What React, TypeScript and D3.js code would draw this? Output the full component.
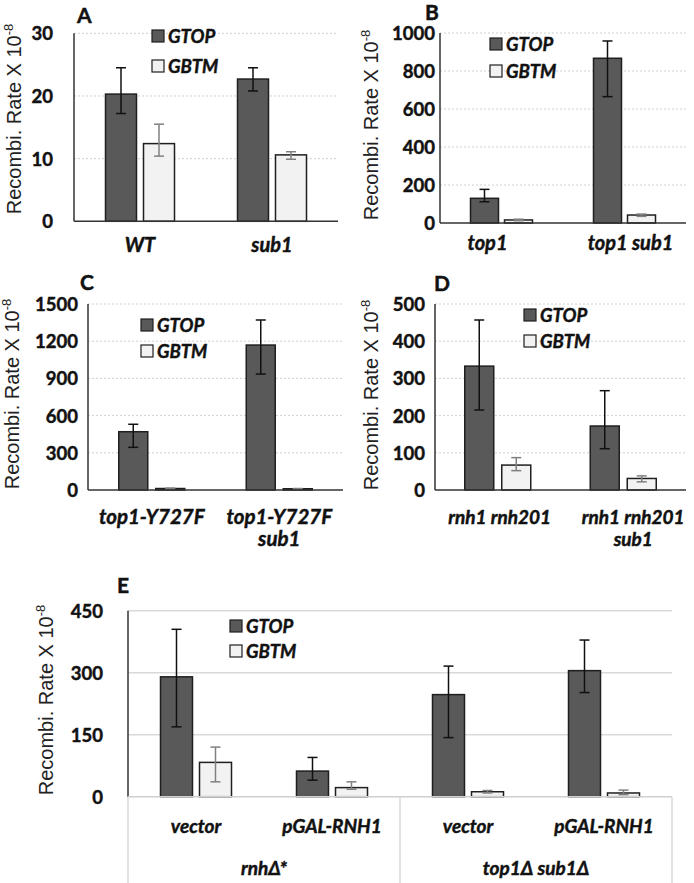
import React from "react";
import * as d3 from "d3";

// ---------- DATA ----------
const seriesNames = ["GTOP", "GBTM"];

const aCategories = ["WT", "sub1"];
const aGtop = [20.3, 22.7];
const aGtopLow = [17.2, 20.8];
const aGtopHigh = [24.5, 24.5];
const aGbtm = [12.4, 10.6];
const aGbtmLow = [10.4, 9.9];
const aGbtmHigh = [15.5, 11.1];
const aTicks = [0, 10, 20, 30];

const bCategories = ["top1", "top1 sub1"];
const bGtop = [130, 867];
const bGtopLow = [112, 665];
const bGtopHigh = [177, 958];
const bGbtm = [16, 42];
const bGbtmLow = [12, 35];
const bGbtmHigh = [20, 47];
const bTicks = [0, 200, 400, 600, 800, 1000];

const cCategories = ["top1-Y727F", "top1-Y727F\nsub1"];
const cGtop = [470, 1169];
const cGtopLow = [344, 935];
const cGtopHigh = [530, 1371];
const cGbtm = [12, 10];
const cGbtmLow = [9, 8];
const cGbtmHigh = [15, 12];
const cTicks = [0, 300, 600, 900, 1200, 1500];

const dCategories = ["rnh1 rnh201", "rnh1 rnh201\nsub1"];
const dGtop = [333, 172];
const dGtopLow = [215, 111];
const dGtopHigh = [457, 267];
const dGbtm = [67, 31];
const dGbtmLow = [52, 22];
const dGbtmHigh = [87, 38];
const dTicks = [0, 100, 200, 300, 400, 500];

const eCategories = ["vector", "pGAL-RNH1", "vector", "pGAL-RNH1"];
const eGroups = ["rnhΔ*", "top1Δ sub1Δ"];
const eGtop = [290, 62, 247, 305];
const eGtopLow = [169, 40, 143, 252];
const eGtopHigh = [405, 95, 316, 379];
const eGbtm = [83, 22, 12, 9];
const eGbtmLow = [36, 18, 9, 5];
const eGbtmHigh = [120, 36, 15, 16];
const eTicks = [0, 150, 300, 450];

// ---------- STYLE ----------
const BOLD_FONT = "Lato, 'Open Sans', sans-serif";
const TITLE_FONT = "'Liberation Sans', Arial, sans-serif";
const FILLS = ["#595959", "#f2f2f2"];
const ERR = ["#111111", "#808080"];
const heavy = { stroke: "#111", strokeWidth: 0.45, paintOrder: "stroke" as const };

type PanelProps = {
  letter: string;
  categories: string[];
  gtop: number[]; gtopLow: number[]; gtopHigh: number[];
  gbtm: number[]; gbtmLow: number[]; gbtmHigh: number[];
  ticks: number[];
  L: any;
};

function Panel({ letter, categories, gtop, gtopLow, gtopHigh, gbtm, gbtmLow, gbtmHigh, ticks, L }: PanelProps) {
  const idx = d3.range(categories.length);
  const x = d3.scaleBand<number>().domain(idx).range([L.x0, L.x1]);
  const y = d3.scaleLinear().domain([0, d3.max(ticks) as number]).range([L.yZero, L.yTop]);
  const series = [
    { v: gtop, lo: gtopLow, hi: gtopHigh },
    { v: gbtm, lo: gbtmLow, hi: gbtmHigh },
  ];
  const cx = (i: number) => (x(i) as number) + x.bandwidth() / 2;
  const barX = (i: number, s: number) =>
    s === 0 ? cx(i) - L.gap / 2 - L.barW : cx(i) + L.gap / 2;
  return (
    <g>
      {ticks.filter((t) => t > 0).map((t) => (
        <line key={"g" + t} x1={L.x0} x2={L.x1} y1={y(t)} y2={y(t)}
          stroke={L.solidGrid ? "#d9d9d9" : "#cfcfcf"} strokeWidth={L.solidGrid ? 1.5 : 1}
          strokeDasharray={L.solidGrid ? undefined : "2,2"} />
      ))}
      {ticks.map((t) => (
        <text key={"t" + t} x={L.x0 - L.tickGap} y={y(t)} textAnchor="end" dominantBaseline="central"
          fontFamily={BOLD_FONT} fontWeight={700} fontSize={18.5} fill="#111" {...heavy}>{t}</text>
      ))}
      {idx.map((i) =>
        series.map((s, si) => (
          <rect key={`b${i}-${si}`} x={barX(i, si)} y={y(s.v[i])} width={L.barW}
            height={y(0) - y(s.v[i])} fill={FILLS[si]} stroke="#1f1f1f" strokeWidth={1.5} />
        ))
      )}
      {idx.map((i) =>
        series.map((s, si) => {
          const c = barX(i, si) + L.barW / 2;
          return (
            <g key={`e${i}-${si}`} stroke={ERR[si]} strokeWidth={1.5}>
              <line x1={c} x2={c} y1={y(s.lo[i])} y2={y(s.hi[i])} />
              <line x1={c - 5} x2={c + 5} y1={y(s.hi[i])} y2={y(s.hi[i])} />
              <line x1={c - 5} x2={c + 5} y1={y(s.lo[i])} y2={y(s.lo[i])} />
            </g>
          );
        })
      )}
      <line x1={L.x0} x2={L.x0} y1={L.yTop} y2={L.yZero} stroke="#333" strokeWidth={1.5} />
      <line x1={L.x0} x2={L.x1} y1={L.yZero} y2={L.yZero}
        stroke={L.solidGrid ? "#d0d0d0" : "#333"} strokeWidth={1.5} />
      {idx.map((i) =>
        categories[i].split("\n").map((line, li) => (
          <text key={`c${i}-${li}`} x={cx(i) + (L.catDx ? L.catDx[i] : 0)} y={L.catY + li * 22} textAnchor="middle"
            fontFamily={BOLD_FONT} fontWeight={700} fontStyle="italic" fontSize={L.catSize || 20} fill="#111" {...heavy}>
            {line}
          </text>
        ))
      )}
      <text transform={`translate(${L.titleX},${L.titleY}) rotate(-90)`} textAnchor="middle"
        fontFamily={TITLE_FONT} fontSize={20} fill="#222">
        Recombi. Rate X 10<tspan dy={-8} fontSize={13}>-8</tspan>
      </text>
      <text x={L.letterX} y={L.letterY} fontFamily={BOLD_FONT} fontWeight={700} fontSize={21} fill="#111" {...heavy}>
        {letter}
      </text>
      {seriesNames.map((n, si) => {
        const cyy = si === 0 ? L.legY1 : L.legY2;
        return (
          <g key={"l" + n}>
            <rect x={L.legX} y={cyy - 6} width={12} height={12} fill={FILLS[si]} stroke="#1f1f1f" strokeWidth={1.2} />
            <text x={L.legX + 16} y={cyy} dominantBaseline="central" fontFamily={BOLD_FONT}
              fontWeight={700} fontStyle="italic" fontSize={18.5} fill="#111" {...heavy}>{n}</text>
          </g>
        );
      })}
    </g>
  );
}

export default function App() {
  const eX0 = 128, eX1 = 672, eZero = 796.7;
  const eBand = d3.scaleBand<number>().domain(d3.range(eCategories.length)).range([eX0, eX1]);
  const groupBounds = eGroups.map((_, g) => [
    eBand(g * 2) as number,
    (eBand(g * 2 + 1) as number) + eBand.bandwidth(),
  ]);
  return (
    <svg width={694} height={883} style={{ position: "absolute", left: 0, top: 0, background: "#fff" }}>
      <rect width={694} height={883} fill="#fff" />
      <Panel letter="A" categories={aCategories} gtop={aGtop} gtopLow={aGtopLow} gtopHigh={aGtopHigh}
        gbtm={aGbtm} gbtmLow={aGbtmLow} gbtmHigh={aGbtmHigh} ticks={aTicks}
        L={{ x0: 74, x1: 338, yTop: 33.3, yZero: 221.3, tickGap: 21, barW: 31, gap: 7, catY: 252,
          titleX: 21, titleY: 119, letterX: 77, letterY: 23, legX: 152, legY1: 36, legY2: 66 }} />
      <Panel letter="B" categories={bCategories} gtop={bGtop} gtopLow={bGtopLow} gtopHigh={bGtopHigh}
        gbtm={bGbtm} gbtmLow={bGbtmLow} gbtmHigh={bGbtmHigh} ticks={bTicks}
        L={{ x0: 440, x1: 686, yTop: 33, yZero: 223, tickGap: 5, barW: 28, gap: 6, catY: 250, catDx: [-14, 6],
          titleX: 378, titleY: 125, letterX: 425, letterY: 20, legX: 490, legY1: 44, legY2: 71 }} />
      <Panel letter="C" categories={cCategories} gtop={cGtop} gtopLow={cGtopLow} gtopHigh={cGtopHigh}
        gbtm={cGbtm} gbtmLow={cGbtmLow} gbtmHigh={cGbtmHigh} ticks={cTicks}
        L={{ x0: 88, x1: 343, yTop: 304, yZero: 490, tickGap: 10, barW: 29, gap: 8, catY: 524, catSize: 20.5,
          titleX: 19, titleY: 394, letterX: 80, letterY: 290, legX: 141, legY1: 325, legY2: 351 }} />
      <Panel letter="D" categories={dCategories} gtop={dGtop} gtopLow={dGtopLow} gtopHigh={dGtopHigh}
        gbtm={dGbtm} gbtmLow={dGbtmLow} gbtmHigh={dGbtmHigh} ticks={dTicks}
        L={{ x0: 435, x1: 686, yTop: 304, yZero: 490, tickGap: 10, barW: 29, gap: 8, catY: 524, catSize: 19,
          catDx: [2, 10],
          titleX: 378, titleY: 395, letterX: 434, letterY: 291, legX: 524, legY1: 315, legY2: 341 }} />
      <g stroke="#d9d9d9" strokeWidth={1.5}>
        {[eX0, ...groupBounds.map((b) => b[1])].map((xx, i) => (
          <line key={"v" + i} x1={xx} x2={xx} y1={eZero} y2={883} />
        ))}
      </g>
      <Panel letter="E" categories={eCategories} gtop={eGtop} gtopLow={eGtopLow} gtopHigh={eGtopHigh}
        gbtm={eGbtm} gbtmLow={eGbtmLow} gbtmHigh={eGbtmHigh} ticks={eTicks}
        L={{ x0: eX0, x1: eX1, yTop: 610.7, yZero: eZero, tickGap: 25, barW: 32, gap: 7, catY: 833,
          catSize: 19, solidGrid: true,
          titleX: 53, titleY: 700, letterX: 117, letterY: 593, legX: 230, legY1: 626, legY2: 651 }} />
      {eGroups.map((g, gi) => (
        <text key={"grp" + gi} x={(groupBounds[gi][0] + groupBounds[gi][1]) / 2} y={875}
          textAnchor="middle" fontFamily={BOLD_FONT} fontWeight={700} fontStyle="italic" fontSize={19} fill="#111" {...heavy}>
          {g}
        </text>
      ))}
    </svg>
  );
}
